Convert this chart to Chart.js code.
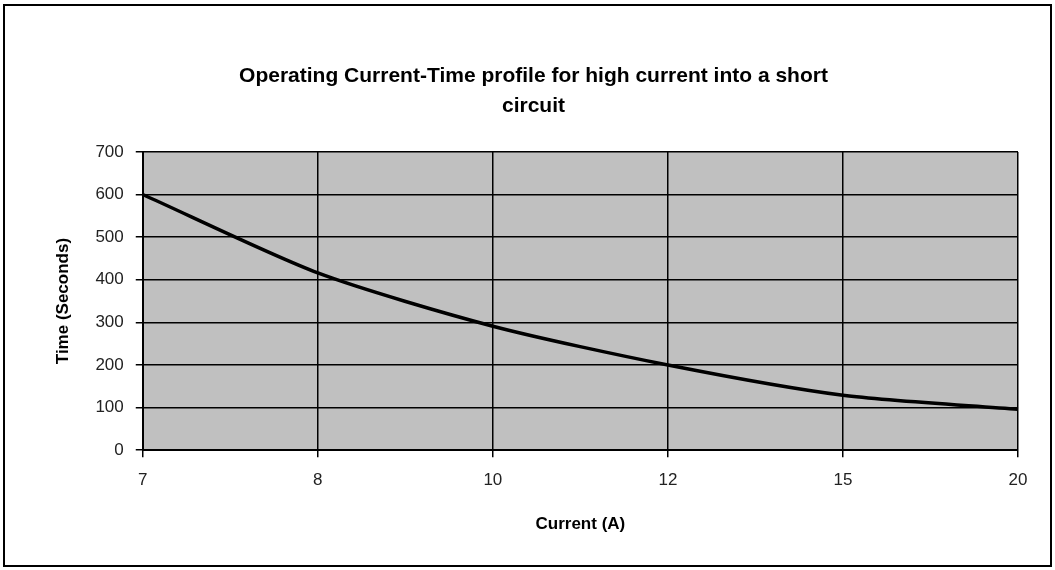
<!DOCTYPE html>
<html>
<head>
<meta charset="utf-8">
<script src="https://cdn.jsdelivr.net/npm/chart.js@4/dist/chart.umd.min.js"></script>
<style>
  html, body { margin: 0; padding: 0; background: #fff; }
  #box {
    position: absolute; left: 3px; top: 4px;
    width: 1045px; height: 559px;
    border: 2px solid #000;
  }
  #box canvas { display: block; }
</style>
</head>
<body>
<div id="box"><canvas id="chart" width="1045" height="559"></canvas></div>
<script>
// Data
const currentLabels = ['7', '8', '10', '12', '15', '20'];
const timeValues = [600, 416, 291, 200, 129, 96];
const yTicks = [0, 100, 200, 300, 400, 500, 600, 700];

// Grey plot area like the old Excel look
const plotBackground = {
    id: 'plotBackground',
    beforeDraw(chart) {
        const a = chart.chartArea;
        const ctx = chart.ctx;
        ctx.save();
        ctx.fillStyle = '#c0c0c0';
        ctx.fillRect(a.left, a.top, a.right - a.left, a.bottom - a.top);
        ctx.restore();
    }
};

const ctx = document.getElementById('chart').getContext('2d');
const chart = new Chart(ctx, {
    type: 'line',
    data: {
        labels: currentLabels,
        datasets: [{
            label: 'Time',
            data: timeValues,
            borderColor: '#000',
            borderWidth: 3.5,
            pointRadius: 0,
            tension: 0.25,
            fill: false
        }]
    },
    options: {
        responsive: false,
        animation: false,
        layout: { padding: { left: 44, right: 32, top: 55, bottom: 26 } },
        plugins: {
            legend: { display: false },
            tooltip: { enabled: false },
            title: {
                display: true,
                text: ['Operating Current-Time profile for high current into a short', 'circuit'],
                color: '#000',
                font: { family: 'Liberation Sans', size: 21, weight: 'bold', lineHeight: 1.45 },
                padding: { top: 0, bottom: 30 }
            }
        },
        scales: {
            x: {
                type: 'category',
                offset: false,
                grid: { color: '#000', lineWidth: 1.5, tickLength: 7, drawTicks: true },
                border: { color: '#000', width: 2 },
                ticks: { color: '#222', font: { family: 'Liberation Sans', size: 17 }, padding: 13, maxRotation: 0 },
                title: {
                    display: true, text: 'Current (A)', color: '#000',
                    font: { family: 'Liberation Sans', size: 17, weight: 'bold' },
                    padding: { top: 11 }
                }
            },
            y: {
                min: 0, max: 700,
                afterBuildTicks(axis) { axis.ticks = yTicks.map(v => ({ value: v })); },
                grid: { color: '#000', lineWidth: 1.5, tickLength: 7, drawTicks: true },
                border: { color: '#000', width: 2 },
                ticks: { color: '#222', font: { family: 'Liberation Sans', size: 17 }, padding: 12 },
                title: {
                    display: true, text: 'Time (Seconds)', color: '#000',
                    font: { family: 'Liberation Sans', size: 17, weight: 'bold' },
                    padding: { bottom: 10 }
                }
            }
        }
    },
    plugins: [plotBackground]
});
</script>
</body>
</html>
